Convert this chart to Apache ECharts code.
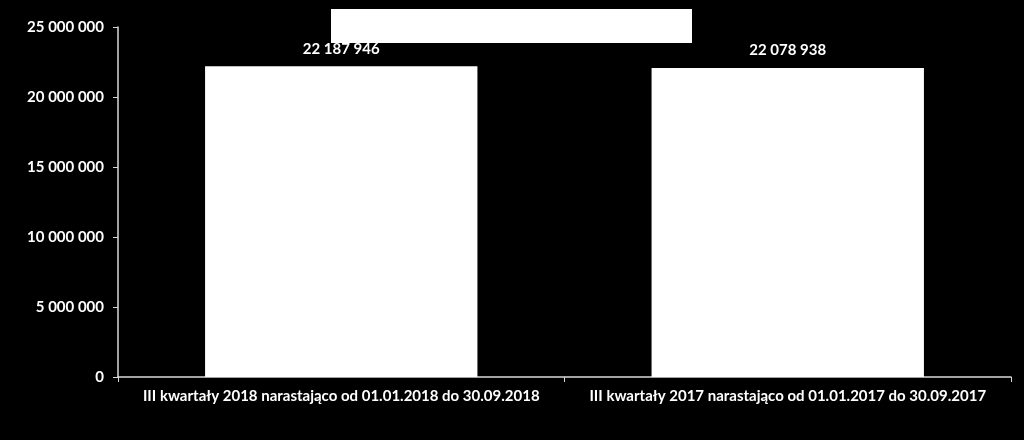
<!DOCTYPE html>
<html><head><meta charset="utf-8">
<script src="https://cdn.jsdelivr.net/npm/echarts@6/dist/echarts.min.js"></script>
<style>html,body{margin:0;padding:0;background:#000;}#c{width:1024px;height:440px;}</style>
</head><body><div id="c"></div>
<script>
const categories = ['III kwartały 2018 narastająco od 01.01.2018 do 30.09.2018', 'III kwartały 2017 narastająco od 01.01.2017 do 30.09.2017'];
const values = [22187946, 22078938];
const yTicks = { min: 0, max: 25000000, interval: 5000000 };

function fmt(v) { return String(Math.round(v)).replace(/\B(?=(\d{3})+(?!\d))/g, ' '); }
const font = 'Lato, "Open Sans", sans-serif';
const chart = echarts.init(document.getElementById('c'));
chart.setOption({
  backgroundColor: '#000',
  animation: false,
  graphic: [{ type: 'rect', left: 331, top: 9, shape: { width: 361, height: 34 }, style: { fill: '#fff' } }],
  grid: { left: 118, right: 13, top: 27, bottom: 63 },
  xAxis: {
    type: 'category', data: categories,
    axisLine: { lineStyle: { color: '#d9d9d9', width: 1.5 } },
    axisTick: { show: true, length: 5, lineStyle: { color: '#d9d9d9' } },
    axisLabel: { interval: 0, color: '#fff', fontWeight: 'bold', fontSize: 15, fontFamily: font, margin: 12 }
  },
  yAxis: {
    type: 'value', min: yTicks.min, max: yTicks.max, interval: yTicks.interval,
    splitLine: { show: false },
    axisLine: { show: true, lineStyle: { color: '#d9d9d9', width: 1.5 } },
    axisTick: { show: true, length: 5, lineStyle: { color: '#d9d9d9' } },
    axisLabel: { color: '#fff', fontWeight: 'bold', fontSize: 15, fontFamily: font, margin: 14, formatter: fmt }
  },
  series: [{
    type: 'bar', data: values, barCategoryGap: '39%',
    itemStyle: { color: '#fff' },
    label: { show: true, position: 'top', distance: 10, color: '#fff', fontWeight: 'bold', fontSize: 15, fontFamily: font, formatter: p => fmt(p.value) }
  }]
});
</script></body></html>
